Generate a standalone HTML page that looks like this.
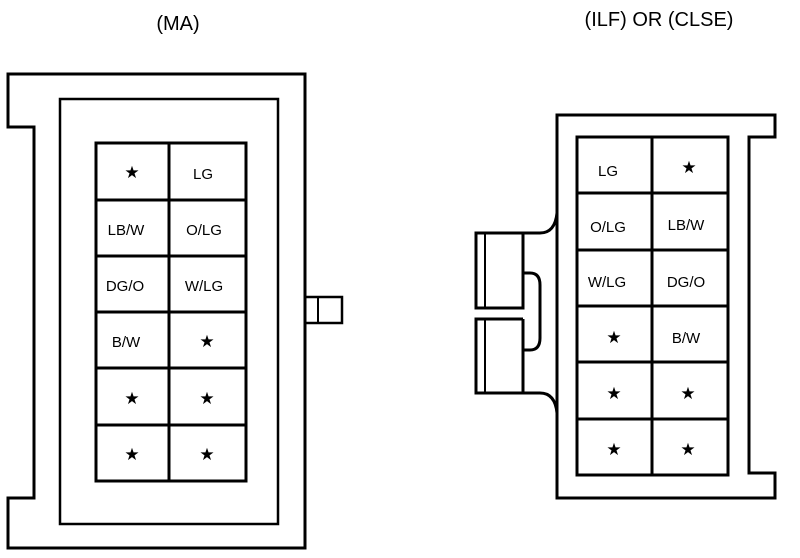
<!DOCTYPE html>
<html><head><style>
body{margin:0;background:#fff;}
svg{display:block;}
text{font-family:"Liberation Sans",sans-serif;fill:#000;}
</style></head><body>
<svg width="800" height="558" viewBox="0 0 800 558" xmlns="http://www.w3.org/2000/svg">
<g fill="none" stroke="#000" stroke-width="3">
<path d="M305,74 H8 V127 H34 V498 H8 V548 H305 Z"/>
<rect x="60" y="99" width="218" height="425" stroke-width="2.5"/>
<rect x="96" y="143" width="150" height="338"/>
<path d="M169,143 V481 M96,200 H246 M96,256 H246 M96,312 H246 M96,368 H246 M96,425 H246"/>
<rect x="305" y="297" width="37" height="26" stroke-width="2.5"/>
<path d="M318,297 V323" stroke-width="2"/>
<path d="M557,115 H775 V137 H749 V473 H775 V498 H557 Z"/>
<rect x="577" y="137" width="151" height="338"/>
<path d="M652,137 V475 M577,193 H728 M577,250 H728 M577,306 H728 M577,362 H728 M577,419 H728"/>
<path d="M557,213 Q555,233 540,233 H476 V308 H523 V233"/>
<path d="M485,233 V308" stroke-width="2"/>
<path d="M523,319 H476 V393 H540 Q555,393 557,413"/>
<path d="M485,319 V393" stroke-width="2"/>
<path d="M523,319 V393"/>
<path d="M523,273 H530 Q540,273 540,285 V338 Q540,350 530,350 H523"/>
</g>
<text x="178" y="30" font-size="20" text-anchor="middle">(MA)</text>
<text x="659" y="26" font-size="20" text-anchor="middle">(ILF) OR (CLSE)</text>
<g font-size="15" text-anchor="middle">
<text x="132" y="178" font-size="17">★</text><text x="203" y="179">LG</text>
<text x="126" y="235">LB/W</text><text x="204" y="235">O/LG</text>
<text x="125" y="291">DG/O</text><text x="204" y="291">W/LG</text>
<text x="126" y="347">B/W</text><text x="207" y="347" font-size="17">★</text>
<text x="132" y="404" font-size="17">★</text><text x="207" y="404" font-size="17">★</text>
<text x="132" y="460" font-size="17">★</text><text x="207" y="460" font-size="17">★</text>

<text x="608" y="176">LG</text><text x="689" y="173" font-size="17">★</text>
<text x="608" y="232">O/LG</text><text x="686" y="230">LB/W</text>
<text x="607" y="287">W/LG</text><text x="686" y="287">DG/O</text>
<text x="614" y="343" font-size="17">★</text><text x="686" y="343">B/W</text>
<text x="614" y="399" font-size="17">★</text><text x="688" y="399" font-size="17">★</text>
<text x="614" y="455" font-size="17">★</text><text x="688" y="455" font-size="17">★</text>
</g>
</svg>
</body></html>
